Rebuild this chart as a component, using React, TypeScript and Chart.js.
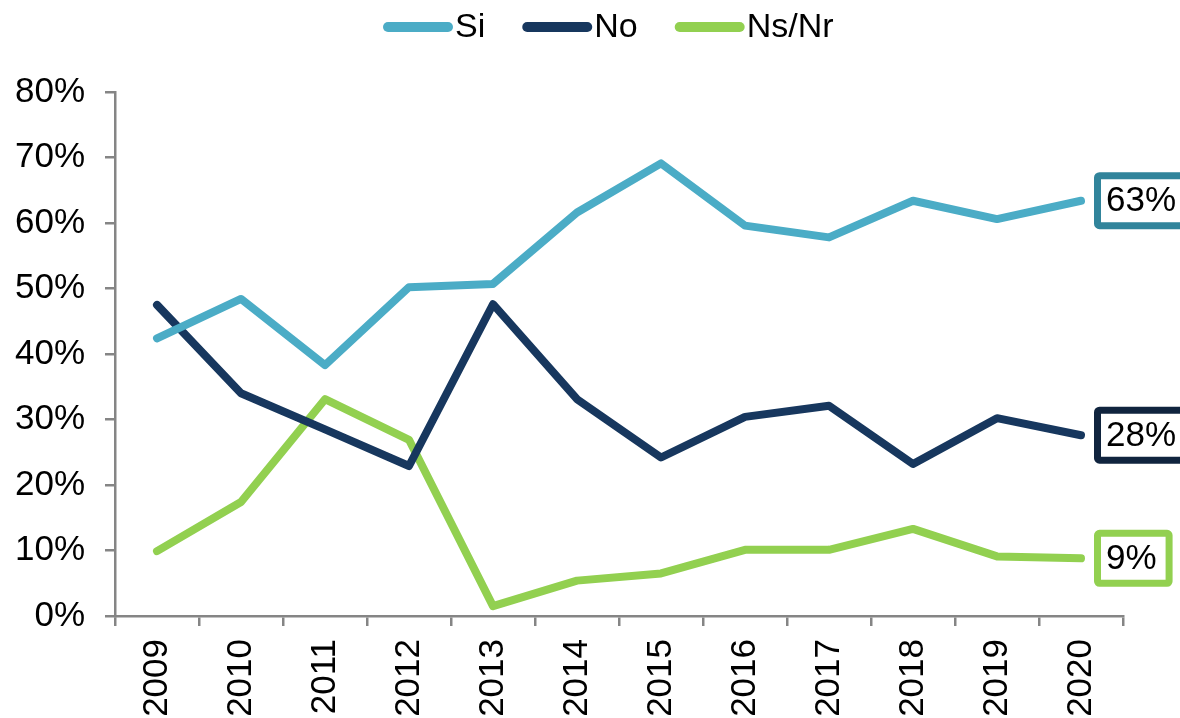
import React, { useEffect, useRef } from "react";
import { Chart, registerables } from "chart.js";

Chart.register(...registerables);

const years = ["2009", "2010", "2011", "2012", "2013", "2014", "2015", "2016", "2017", "2018", "2019", "2020"];
const siValues = [42.4, 48.4, 38.3, 50.2, 50.7, 61.6, 69.1, 59.6, 57.8, 63.4, 60.6, 63.4];
const noValues = [47.5, 34.0, 28.5, 22.9, 47.6, 33.1, 24.2, 30.4, 32.1, 23.2, 30.2, 27.6];
const nsnrValues = [9.9, 17.4, 33.1, 26.9, 1.5, 5.4, 6.5, 10.1, 10.1, 13.3, 9.1, 8.8];
const seriesLabels = ["Si", "No", "Ns/Nr"];
const lineColors = ["#4BACC6", "#17375E", "#92D050"];
const boxColors = ["#31849B", "#10243E", "#92D050"];

const FONT = '"Liberation Sans", Arial, sans-serif';

const legendPlugin = {
  id: "customLegend",
  afterDraw(chart: any) {
    const ctx = chart.ctx;
    ctx.save();
    ctx.font = `34px ${FONT}`;
    ctx.textBaseline = "middle";
    ctx.textAlign = "left";
    let x = 383;
    const y = 27;
    chart.data.datasets.forEach((ds: any) => {
      ctx.strokeStyle = ds.borderColor;
      ctx.lineWidth = 10;
      ctx.lineCap = "round";
      ctx.beginPath();
      ctx.moveTo(x + 5, y);
      ctx.lineTo(x + 65, y);
      ctx.stroke();
      ctx.fillStyle = "#000";
      ctx.fillText(ds.label, x + 72, y + 1);
      const w = ctx.measureText(ds.label).width;
      x += 72 + w + 37;
    });
    ctx.restore();
  },
};

const endLabelPlugin = {
  id: "endLabels",
  afterDatasetsDraw(chart: any) {
    const ctx = chart.ctx;
    ctx.save();
    ctx.font = `35px ${FONT}`;
    ctx.textBaseline = "middle";
    ctx.textAlign = "left";
    chart.data.datasets.forEach((ds: any, i: number) => {
      const meta = chart.getDatasetMeta(i);
      const pt = meta.data[meta.data.length - 1];
      const val = ds.data[ds.data.length - 1];
      const text = `${Math.round(val)}%`;
      const tw = ctx.measureText(text).width;
      const border = 7;
      const left = pt.x + 13;
      const h = 57;
      const w = border + 6 + tw + 8 + border;
      const top = pt.y - h / 2;
      ctx.fillStyle = "#fff";
      ctx.strokeStyle = boxColors[i];
      ctx.lineWidth = border;
      ctx.beginPath();
      (ctx as any).roundRect(left + border / 2, top + border / 2, w - border, h - border, 2);
      ctx.fill();
      ctx.stroke();
      ctx.fillStyle = "#000";
      ctx.fillText(text, left + border + 5, pt.y + 1);
    });
    ctx.restore();
  },
};

export default function App() {
  const ref = useRef<HTMLCanvasElement>(null);
  useEffect(() => {
    if (!ref.current) return;
    const seriesData = [siValues, noValues, nsnrValues];
    const chart = new Chart(ref.current, {
      type: "line",
      data: {
        labels: years,
        datasets: seriesData.map((d, i) => ({
          label: seriesLabels[i],
          data: d,
          borderColor: lineColors[i],
          backgroundColor: lineColors[i],
          borderWidth: 8,
          pointRadius: 0,
          tension: 0,
          borderCapStyle: "round" as const,
          borderJoinStyle: "round" as const,
          fill: false,
        })),
      },
      options: {
        animation: false,
        responsive: false,
        devicePixelRatio: 1,
        layout: { padding: { top: 92, right: 57, left: 0, bottom: 0 } },
        plugins: {
          legend: { display: false },
          tooltip: { enabled: false },
        },
        scales: {
          x: {
            type: "category",
            offset: true,
            grid: {
              offset: true,
              drawOnChartArea: false,
              drawTicks: true,
              tickLength: 10,
              color: "#858585",
              lineWidth: 2.5,
            },
            border: { display: true, color: "#858585", width: 2.5 },
            ticks: {
              minRotation: 90,
              maxRotation: 90,
              autoSkip: false,
              padding: 13,
              color: "#000",
              font: { family: FONT, size: 35 },
            },
            afterFit(scale: any) {
              scale.height = 102;
            },
          },
          y: {
            min: 0,
            max: 80,
            grid: {
              drawOnChartArea: false,
              drawTicks: true,
              tickLength: 10,
              color: "#858585",
              lineWidth: 2.5,
            },
            border: { display: true, color: "#858585", width: 2.5 },
            ticks: {
              stepSize: 10,
              padding: 20,
              color: "#000",
              font: { family: FONT, size: 35 },
              callback: (v: any) => `${v}%`,
            },
            afterFit(scale: any) {
              scale.width = 115;
            },
          },
        },
      },
      plugins: [legendPlugin, endLabelPlugin],
    });
    return () => chart.destroy();
  }, []);
  return (
    <div style={{ position: "absolute", left: 0, top: 0, width: 1180, height: 718, background: "#fff" }}>
      <canvas ref={ref} width={1180} height={718} style={{ display: "block", width: 1180, height: 718 }} />
    </div>
  );
}
